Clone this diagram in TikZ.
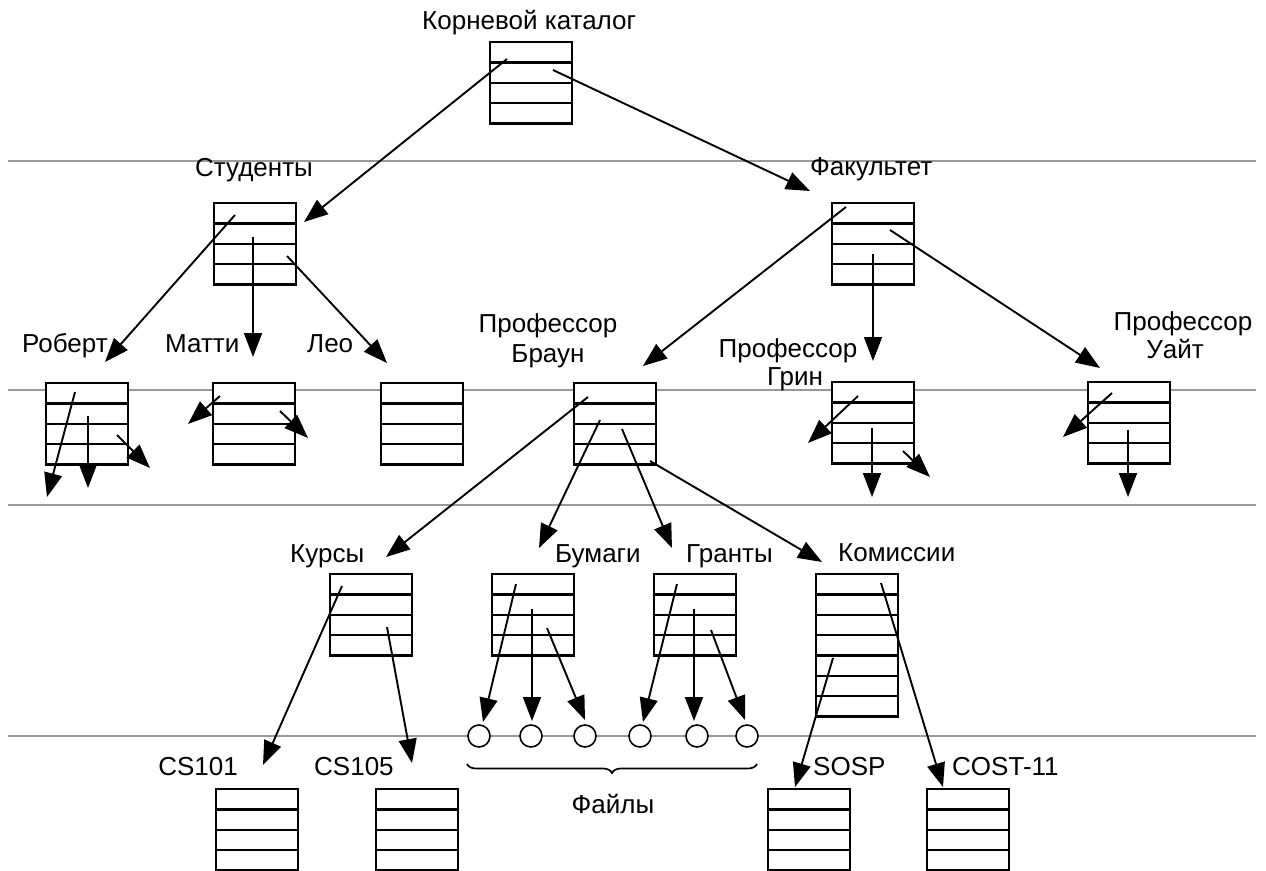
\documentclass[tikz,border=0pt]{standalone}
\usepackage{fontspec}
\setmainfont{Liberation Sans}
\usetikzlibrary{arrows.meta,calc,decorations.pathreplacing}

\begin{document}
\begin{tikzpicture}[x=1pt,y=-1pt,
  lbl/.style={font=\fontsize{26}{30}\selectfont, inner sep=0pt, anchor=base west},
  guide/.style={draw=black!40, line width=1.2pt},
  dirbox/.style={draw, fill=white, line width=2.4pt, anchor=north west,
    minimum width=82pt, minimum height=#1*20.3pt, inner sep=0pt,
    path picture={%
      \pgfmathtruncatemacro\nsep{#1-1}%
      \foreach \k in {1,...,\nsep}{%
        \draw[line width=2.3pt]
          ($(path picture bounding box.north west)!{\k/#1}!(path picture bounding box.south west)$) --
          ($(path picture bounding box.north east)!{\k/#1}!(path picture bounding box.south east)$);}%
    }},
  dirbox/.default=4,
  ptr/.style={-{Triangle[length=24pt,width=18pt]}, line width=1.9pt},
  file/.style={circle, draw, fill=white, line width=1.6pt, minimum size=22pt, inner sep=0pt}
]
\useasboundingbox (0,0) rectangle (1266,870);

% level separators
\foreach \yy in {161,390,505,736}
  \draw[guide] (8,\yy) -- (1256,\yy);

% directories
\node[dirbox] (root)  at (489,41)  {};
\node[dirbox] (stud)  at (213,202) {};
\node[dirbox] (fac)   at (831,202) {};
\node[dirbox] (rob)   at (45,382)  {};
\node[dirbox] (mat)   at (212,382) {};
\node[dirbox] (leo)   at (380,382) {};
\node[dirbox] (brown) at (573,382) {};
\node[dirbox] (green) at (831,381) {};
\node[dirbox] (white) at (1087,381) {};
\node[dirbox] (kurs)  at (329,573) {};
\node[dirbox] (bum)   at (491,573) {};
\node[dirbox] (grant) at (653,573) {};
\node[dirbox=7] (kom) at (815,573) {};
\node[dirbox] (cs1)   at (215,788) {};
\node[dirbox] (cs5)   at (375,788) {};
\node[dirbox] (sosp)  at (767,788) {};
\node[dirbox] (cost)  at (926,788) {};

% files
\foreach \xx [count=\i] in {479,531,585,640,697,747}
  \node[file] (f\i) at (\xx,736) {};

% labels
\node[lbl] (tRoot) at (422,29)  {Корневой каталог};
\node[lbl] (tStud) at (195,176) {Студенты};
\node[lbl] (tFac)  at (810,175) {Факультет};
\node[lbl] (tRob)  at (22,352)  {Роберт};
\node[lbl] (tMat)  at (165,352) {Матти};
\node[lbl] (tLeo)  at (307,352) {Лео};
\node[lbl,anchor=base] (tBr1) at (548,332) {Профессор};
\node[lbl,anchor=base] (tBr2) at (548,362) {Браун};
\node[lbl,anchor=base] (tGr1) at (788,357) {Профессор};
\node[lbl,anchor=base] (tGr2) at (795,385) {Грин};
\node[lbl,anchor=base] (tWh1) at (1183,330) {Профессор};
\node[lbl,anchor=base] (tWh2) at (1175,358) {Уайт};
\node[lbl] (tKurs)  at (290,562) {Курсы};
\node[lbl] (tBum)   at (555,562) {Бумаги};
\node[lbl] (tGrant) at (686,562) {Гранты};
\node[lbl] (tKom)   at (838,561) {Комиссии};
\node[lbl,anchor=base east] (tCs1) at (238,775) {CS101};
\node[lbl] (tCs5)  at (314,775) {CS105};
\node[lbl] (tSosp) at (813,775) {SOSP};
\node[lbl] (tCost) at (952,775) {COST-11};
\node[lbl,anchor=base] (tFiles) at (613,813) {Файлы};

% brace under the files
\coordinate (brL) at (467,764);
\coordinate (brR) at (757,764);
\draw[decorate, decoration={brace, mirror, amplitude=9pt}, line width=1.7pt] (brL) -- (brR);

% pointer sources and targets
\coordinate (rootA) at (507,59);   \coordinate (rootAe) at (304,222);
\coordinate (rootB) at (553,70);   \coordinate (rootBe) at (810,191);
\coordinate (studA) at (235,215);  \coordinate (studAe) at (105,362);
\coordinate (studB) at (253,237);  \coordinate (studBe) at (253,357);
\coordinate (studC) at (287,256);  \coordinate (studCe) at (387,363);
\coordinate (facA) at (846,207);   \coordinate (facAe) at (643,366);
\coordinate (facB) at (873,254);   \coordinate (facBe) at (873,361);
\coordinate (facC) at (890,230);   \coordinate (facCe) at (1100,368);
\coordinate (robA) at (75,392);    \coordinate (robAe) at (47,497);
\coordinate (robB) at (88,416);    \coordinate (robBe) at (88,488);
\coordinate (robC) at (117,435);   \coordinate (robCe) at (150,468);
\coordinate (matA) at (220,396);   \coordinate (matAe) at (188,424);
\coordinate (matB) at (280,411);   \coordinate (matBe) at (308,438);
\coordinate (brA) at (588,397);    \coordinate (brAe) at (386,557);
\coordinate (brB) at (600,420);    \coordinate (brBe) at (539,548);
\coordinate (brC) at (622,429);    \coordinate (brCe) at (672,548);
\coordinate (brD) at (650,461);    \coordinate (brDe) at (822,562);
\coordinate (grA) at (858,396);    \coordinate (grAe) at (808,443);
\coordinate (grB) at (872,428);    \coordinate (grBe) at (872,497);
\coordinate (grC) at (903,451);    \coordinate (grCe) at (930,477);
\coordinate (whA) at (1112,393);   \coordinate (whAe) at (1063,437);
\coordinate (whB) at (1128,430);   \coordinate (whBe) at (1128,497);
\coordinate (kuA) at (342,586);    \coordinate (kuAe) at (263,765);
\coordinate (kuB) at (387,627);    \coordinate (kuBe) at (412,763);
\coordinate (buA) at (516,584);    \coordinate (buAe) at (483,722);
\coordinate (buB) at (532,609);    \coordinate (buBe) at (532,721);
\coordinate (buC) at (547,628);    \coordinate (buCe) at (585,720);
\coordinate (gaA) at (677,584);    \coordinate (gaAe) at (643,722);
\coordinate (gaB) at (694,609);    \coordinate (gaBe) at (694,721);
\coordinate (gaC) at (711,630);    \coordinate (gaCe) at (745,720);
\coordinate (koA) at (833,658);    \coordinate (koAe) at (795,787);
\coordinate (koB) at (881,583);    \coordinate (koBe) at (943,787);

\foreach \p in {rootA,rootB,studA,studB,studC,facA,facB,facC,
                robA,robB,robC,matA,matB,brA,brB,brC,brD,
                grA,grB,grC,whA,whB,kuA,kuB,buA,buB,buC,
                gaA,gaB,gaC,koA,koB}
  \draw[ptr] (\p) -- (\p e);
\end{tikzpicture}
\end{document}
